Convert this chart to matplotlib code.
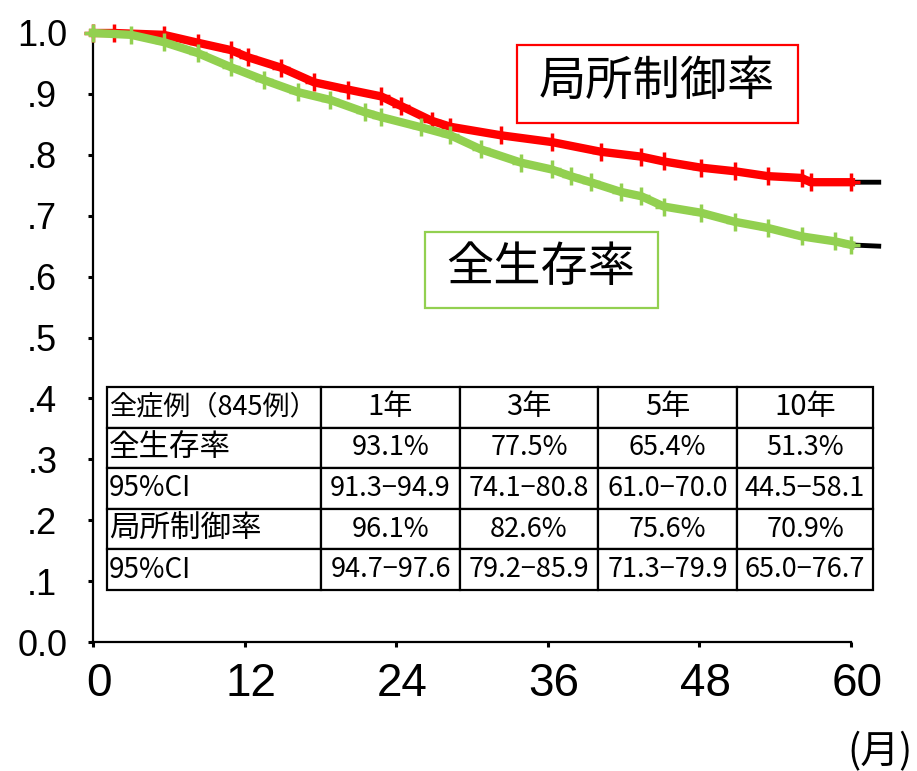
import matplotlib
matplotlib.use("Agg")
import matplotlib.pyplot as plt
import matplotlib.transforms as mtransforms
import numpy as np

# ---------------- data ----------------
lc_months = [0, 1.7, 5.6, 8.3, 10.9, 12.3, 14.9, 17.5, 20.2, 22.8, 24.4, 26.8, 28.3,
             32.3, 36.3, 40.2, 43.4, 45.2, 48.1, 50.8, 53.4, 56.1, 56.8, 60.0, 62.2]
lc_rate = [1.0, 1.0, 0.997, 0.984, 0.972, 0.960, 0.943, 0.919, 0.907, 0.896, 0.880,
           0.856, 0.846, 0.832, 0.821, 0.805, 0.797, 0.789, 0.779, 0.773, 0.765,
           0.762, 0.755, 0.755, 0.755]

os_months = [0, 3.0, 5.6, 8.3, 10.9, 13.5, 16.2, 18.8, 21.5, 22.8, 26.0, 28.3, 30.7,
             33.9, 36.3, 37.8, 39.4, 41.8, 43.4, 45.2, 48.1, 50.8, 53.4, 56.1, 58.7,
             60.0, 62.2]
os_rate = [1.0, 0.997, 0.985, 0.967, 0.944, 0.923, 0.903, 0.890, 0.870, 0.862, 0.845,
           0.832, 0.809, 0.787, 0.776, 0.765, 0.755, 0.739, 0.732, 0.715, 0.705,
           0.690, 0.680, 0.666, 0.658, 0.652, 0.650]

x_ticks = [0, 12, 24, 36, 48, 60]
y_ticks = [0.0, 0.1, 0.2, 0.3, 0.4, 0.5, 0.6, 0.7, 0.8, 0.9, 1.0]
y_ticklabels = ["0.0", ".1", ".2", ".3", ".4", ".5", ".6", ".7", ".8", ".9", "1.0"]

table_header = ["全症例（845例）", "1年", "3年", "5年", "10年"]
table_rows = [
    ["全生存率", "93.1%", "77.5%", "65.4%", "51.3%"],
    ["95%CI", "91.3\u221294.9", "74.1\u221280.8", "61.0\u221270.0", "44.5\u221258.1"],
    ["局所制御率", "96.1%", "82.6%", "75.6%", "70.9%"],
    ["95%CI", "94.7\u221297.6", "79.2\u221285.9", "71.3\u221279.9", "65.0\u221276.7"],
]

RED = "#ff0000"
GREEN = "#92d050"
CJK = ["Noto Sans CJK JP", "DejaVu Sans"]
NUM = ["Liberation Sans Narrow", "Liberation Sans", "DejaVu Sans"]

# ---------------- figure ----------------
W, H = 917, 771
fig = plt.figure(figsize=(W / 100, H / 100), dpi=100)
ax_left, ax_right, ax_top, ax_bottom = 93, 880, 33, 642
ax = fig.add_axes([ax_left / W, 1 - ax_bottom / H, (ax_right - ax_left) / W,
                   (ax_bottom - ax_top) / H])
ax.set_xlim(0, 62.3)
ax.set_ylim(0, 1.0)

# black underlying curves
ax.plot(lc_months, lc_rate, color="black", lw=3.5, clip_on=False, zorder=3)
ax.plot(os_months, os_rate, color="black", lw=3.5, clip_on=False, zorder=3)

# coloured censored portions
end = 60.2
lm = np.array(lc_months); lr = np.array(lc_rate)
om = np.array(os_months); orr = np.array(os_rate)
ax.plot(lm[lm <= end], lr[lm <= end], color=RED, lw=6, marker="+", ms=13, mew=2.5,
        clip_on=False, zorder=4)
ax.plot(om[om <= end], orr[om <= end], color=GREEN, lw=6, marker="+", ms=13, mew=2.5,
        clip_on=False, zorder=5)

# axes styling
for s in ["top", "right"]:
    ax.spines[s].set_visible(False)
ax.spines["left"].set_linewidth(1.6)
ax.spines["bottom"].set_linewidth(1.6)
ax.spines["bottom"].set_bounds(0, 60)

ax.set_xticks(x_ticks)
ax.set_xticklabels([str(t) for t in x_ticks], family=NUM, fontsize=33)
ax.set_yticks(y_ticks)
ax.set_yticklabels(y_ticklabels, family=["Liberation Sans", "DejaVu Sans"], fontsize=26)
ax.tick_params(axis="both", direction="out", length=3.5, width=2.2)
ax.tick_params(axis="y", pad=33)
ax.tick_params(axis="x", pad=11)
for lab in ax.get_yticklabels():
    lab.set_horizontalalignment("center")
offset = mtransforms.ScaledTranslation(6 / 100, 0, fig.dpi_scale_trans)
for lab in ax.get_xticklabels():
    lab.set_transform(lab.get_transform() + offset)

# (月)
fig.text(880 / W, 1 - 752 / H, "(月)", family=CJK, fontsize=28, ha="center", va="center")

# label boxes
def px_box(x0, y0, x1, y1, color):
    r = plt.Rectangle((x0 / W, 1 - y1 / H), (x1 - x0) / W, (y1 - y0) / H,
                      transform=fig.transFigure, fill=True, facecolor="white",
                      edgecolor=color, lw=1.6, zorder=6)
    fig.add_artist(r)

px_box(517, 45, 798, 123, RED)
fig.text(657 / W, 1 - 82 / H, "局所制御率", family=CJK, fontsize=34, ha="center",
         va="center", zorder=7)
px_box(425, 232, 658, 308, GREEN)
fig.text(541 / W, 1 - 268 / H, "全生存率", family=CJK, fontsize=34, ha="center",
         va="center", zorder=7)

# table
col_px = [214, 139, 138, 139, 136]
tot = sum(col_px)
tx0, ty0, tx1, ty1 = 107, 387, 873, 590
aw = ax_right - ax_left
ah = ax_bottom - ax_top
tbl = ax.table(cellText=[table_header] + table_rows,
               colWidths=[c / tot for c in col_px],
               bbox=[(tx0 - ax_left) / aw, (ax_bottom - ty1) / ah,
                     (tx1 - tx0) / aw, (ty1 - ty0) / ah],
               cellLoc="center", zorder=8)
tbl.auto_set_font_size(False)
for (r, c), cell in tbl.get_celld().items():
    cell.set_linewidth(1.6)
    cell.set_edgecolor("black")
    cell.set_facecolor("white")
    txt = cell.get_text()
    txt.set_family(CJK)
    if c == 0:
        txt.set_horizontalalignment("left")
        cell.PAD = 0.008
        txt.set_fontsize(19.5 if r == 0 else (20 if "CI" in txt.get_text() else 22))
    elif r == 0:
        txt.set_fontsize(21)
    else:
        txt.set_fontsize(19.5)

fig.savefig("out.png", dpi=100)
